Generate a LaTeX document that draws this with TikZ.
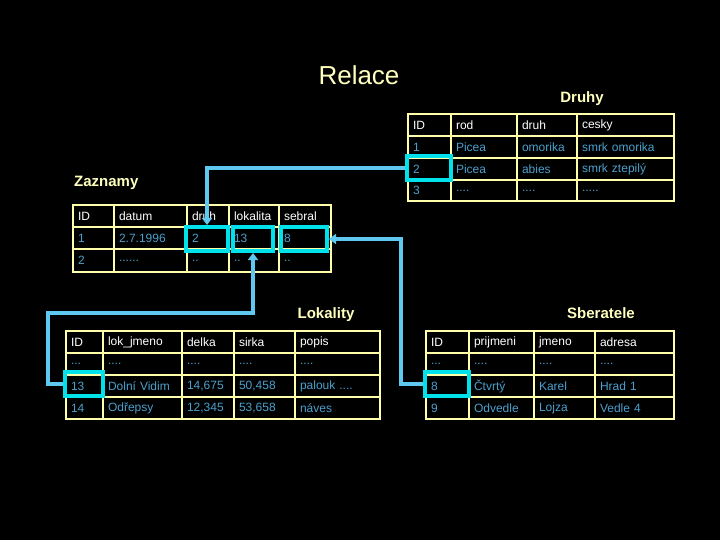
\documentclass[tikz,border=0pt]{standalone}
\usepackage{fontspec}
\setmainfont{Liberation Sans}
\usetikzlibrary{arrows.meta}
\definecolor{tline}{RGB}{255,255,170}
\definecolor{ttitle}{RGB}{255,255,190}
\definecolor{tdata}{RGB}{75,160,205}
\definecolor{hlc}{RGB}{0,225,235}
\definecolor{connc}{RGB}{95,200,240}
\tikzset{
 cell/.style={draw=tline, line width=2pt, anchor=north west, inner xsep=5pt, inner ysep=0pt, align=left, font=\fontsize{12}{14}\selectfont},
 hd/.style={text=white},
 dt/.style={text=tdata},
 ttl/.style={text=ttitle, font=\bfseries\fontsize{15}{18}\selectfont, inner sep=0pt},
 bigttl/.style={text=ttitle, font=\fontsize{26}{30}\selectfont, inner sep=0pt},
 hl/.style={draw=hlc, line width=4pt, inner sep=0pt},
 conn/.style={draw=connc, line width=4pt, -{Triangle[length=7pt,width=10pt]}},
}
\newcommand\dtwo{..}
\newcommand\dthree{.{}.{}.}
\newcommand\dfour{.{}.{}.{}.}
\newcommand\dfive{.{}.{}.{}.{}.}
\newcommand\dsix{.{}.{}.{}.{}.{}.}
\newcommand\tc[7]{\pgfmathsetmacro\tcw{#5-10}\node[cell,#1,minimum height=#6pt,text width=\tcw pt] (#2) at (#3,#4) {#7};}
\begin{document}
\begin{tikzpicture}[x=1pt,y=-1pt]
\fill[black] (0,0) rectangle (720,540);
\useasboundingbox (0,0) rectangle (720,540);
% titles
\node[bigttl, anchor=base] (trel) at (359,85) {Relace};
\node[ttl, anchor=base] (tdru) at (582,103) {Druhy};
\node[ttl, anchor=base west] (tzaz) at (74,187) {Zaznamy};
\node[ttl, anchor=base] (tlok) at (326,318) {Lokality};
\node[ttl, anchor=base] (tsbe) at (601,318) {Sberatele};
% Druhy
\foreach \x/\w/\t [count=\i] in {407/43/ID, 450/66/rod, 516/60/druh, 576/97/cesky} {\tc{hd}{d1\i}{\x}{113}{\w}{22}{\t}}
\foreach \x/\w/\t [count=\i] in {407/43/1, 450/66/Picea, 516/60/omorika, 576/97/smrk omorika} {\tc{dt}{d2\i}{\x}{135}{\w}{22}{\t}}
\foreach \x/\w/\t [count=\i] in {407/43/2, 450/66/Picea, 516/60/abies, 576/97/smrk ztepilý} {\tc{dt}{d3\i}{\x}{157}{\w}{22}{\t}}
\foreach \x/\w/\t [count=\i] in {407/43/3, 450/66/\dfour, 516/60/\dfour, 576/97/\dfive} {\tc{dt}{d4\i}{\x}{179}{\w}{21}{\t}}
% Zaznamy
\foreach \x/\w/\t [count=\i] in {72/41/ID, 113/73/datum, 186/42/druh, 228/50/lokalita, 278/52/sebral} {\tc{hd}{z1\i}{\x}{204}{\w}{22}{\t}}
\foreach \x/\w/\t [count=\i] in {72/41/1, 113/73/2.7.1996, 186/42/2, 228/50/13, 278/52/8} {\tc{dt}{z2\i}{\x}{226}{\w}{22}{\t}}
\foreach \x/\w/\t [count=\i] in {72/41/2, 113/73/\dsix, 186/42/\dtwo, 228/50/\dtwo, 278/52/\dtwo} {\tc{dt}{z3\i}{\x}{248}{\w}{23}{\t}}
% Lokality
\foreach \x/\w/\t [count=\i] in {65/37/ID, 102/79/lok\_jmeno, 181/52/delka, 233/61/sirka, 294/85/popis} {\tc{hd}{l1\i}{\x}{330}{\w}{22}{\t}}
\foreach \x/\w/\t [count=\i] in {65/37/\dthree, 102/79/\dfour, 181/52/\dfour, 233/61/\dfour, 294/85/\dfour} {\tc{dt}{l2\i}{\x}{352}{\w}{22}{\t}}
\foreach \x/\w/\t [count=\i] in {65/37/13, 102/79/Dolní Vidim, 181/52/{14,675}, 233/61/{50,458}, 294/85/palouk \dfour} {\tc{dt}{l3\i}{\x}{374}{\w}{22}{\t}}
\foreach \x/\w/\t [count=\i] in {65/37/14, 102/79/Odřepsy, 181/52/{12,345}, 233/61/{53,658}, 294/85/náves} {\tc{dt}{l4\i}{\x}{396}{\w}{22}{\t}}
% Sberatele
\foreach \x/\w/\t [count=\i] in {425/43/ID, 468/65/prijmeni, 533/61/jmeno, 594/79/adresa} {\tc{hd}{s1\i}{\x}{330}{\w}{22}{\t}}
\foreach \x/\w/\t [count=\i] in {425/43/\dthree, 468/65/\dfour, 533/61/\dfour, 594/79/\dfour} {\tc{dt}{s2\i}{\x}{352}{\w}{22}{\t}}
\foreach \x/\w/\t [count=\i] in {425/43/8, 468/65/Čtvrtý, 533/61/Karel, 594/79/Hrad 1} {\tc{dt}{s3\i}{\x}{374}{\w}{22}{\t}}
\foreach \x/\w/\t [count=\i] in {425/43/9, 468/65/Odvedle, 533/61/Lojza, 594/79/Vedle 4} {\tc{dt}{s4\i}{\x}{396}{\w}{22}{\t}}
% highlight boxes
\node[hl, minimum width=44pt, minimum height=24pt] (hdr) at (429,168) {};
\node[hl, minimum width=42pt, minimum height=24pt] (hzd) at (207,239) {};
\node[hl, minimum width=40pt, minimum height=24pt] (hz13) at (253,239) {};
\node[hl, minimum width=46pt, minimum height=24pt] (hz8) at (304,239) {};
\node[hl, minimum width=38pt, minimum height=24pt] (hlk) at (84,384) {};
\node[hl, minimum width=44pt, minimum height=24pt] (hsb) at (447,384) {};
% connectors
\coordinate (k1) at (48,313);
\coordinate (k2) at (401,239);
\draw[conn] (hdr.west) -| (hzd.north);
\draw[conn] (hlk.west) -| (k1) -| (hz13.south);
\draw[conn] (hsb.west) -| (k2) -- (hz8.east);
\end{tikzpicture}
\end{document}
